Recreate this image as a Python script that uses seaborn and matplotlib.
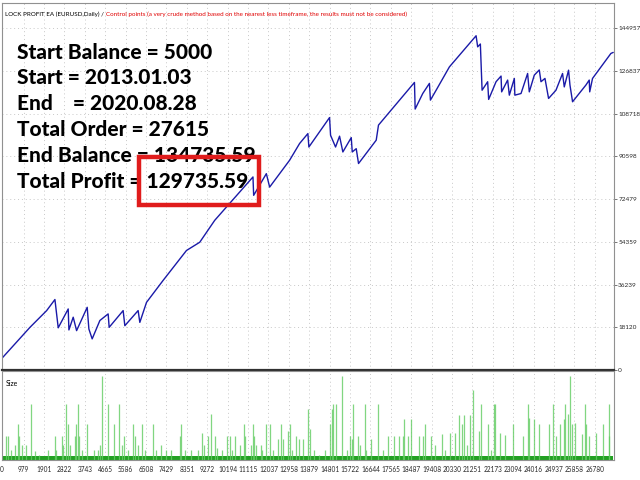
import numpy as np
import pandas as pd
import matplotlib
matplotlib.use("Agg")
import matplotlib.pyplot as plt
import seaborn as sns

# balance curve (trade number, balance)
trade_no = [0, 1263, 2017, 2391, 2540, 2991, 3023, 3217, 3370, 3849, 3925, 4074,
            4422, 4796, 4841, 5473, 5550, 6150, 6227, 6529, 7278, 8334, 8934, 9611,
            11339, 11370, 11943, 12092, 12995, 13446, 13820, 13865, 14799, 14844,
            15070, 15251, 15400, 15779, 15824, 16004, 16108, 16907, 17010, 18635,
            18666, 19009, 19311, 19356, 19614, 20214, 21419, 21491, 21612, 21690,
            21942, 21987, 22321, 22547, 22574, 22845, 22921, 23147, 23170, 23449,
            23747, 23823, 24049, 24274, 24351, 24531, 24694, 25028, 25326, 25403,
            25597, 25660, 25778, 26382, 26531, 26553, 26680, 27510, 27615]
balance = [5000, 18100, 25200, 29900, 17900, 25900, 17000, 22400, 16700, 26600,
           17400, 13200, 21000, 23800, 18100, 25200, 18800, 25200, 20200, 28700,
           38000, 50700, 54200, 63500, 81900, 74100, 83300, 77600, 89000, 96100,
           100300, 94600, 107100, 99600, 94600, 99200, 92500, 98600, 92500, 93900,
           87600, 97500, 103900, 122000, 110700, 117300, 121600, 114500, 118700,
           128600, 141800, 137100, 138300, 118700, 122300, 114800, 122300, 124700,
           118000, 123000, 116600, 123700, 116600, 117300, 125800, 118000, 125100,
           127300, 122300, 123700, 115200, 118700, 125800, 120100, 127200, 120900,
           113800, 120900, 123000, 118000, 123700, 134300, 134735.59]

# lot size spikes (trade number, size)
size_trade = [196, 271, 406, 602, 737, 767, 918, 1083, 1294, 1489, 1685, 2091, 2392,
              2437, 2707, 2768, 2903, 2978, 3068, 3279, 3339, 3414, 3490, 3625, 3850,
              4151, 4347, 4422, 4527, 4798, 5054, 5294, 5400, 5520, 5715, 5926, 6016,
              6167, 6332, 6452, 6828, 6979, 7204, 7430, 7656, 8032, 8092, 8272, 8558,
              8859, 9024, 9145, 9325, 9445, 9626, 9716, 9957, 10167, 10317, 10393,
              10528, 10739, 10934, 10964, 11265, 11340, 11385, 11461, 11686, 11746,
              11942, 12092, 12243, 12453, 12589, 12694, 12904, 12995, 13115, 13265,
              13416, 13596, 13821, 13897, 14093, 14318, 14574, 14799, 14890, 14950,
              15070, 15356, 15581, 15702, 15807, 15852, 16078, 16183, 16379, 16454,
              16679, 16980, 17206, 17461, 17702, 17928, 18108, 18183, 18334, 18499,
              18860, 19011, 19131, 19386, 19582, 19868, 20018, 20229, 20454, 20665,
              20770, 20860, 21026, 21161, 21266, 21537, 21657, 21943, 22079, 22214,
              22259, 22515, 22725, 23086, 23522, 23763, 23823, 24049, 24274, 24726,
              24906, 25026, 25207, 25372, 25432, 25553, 25643, 25748, 25899, 26200,
              26335, 26380, 26530, 26831, 27132, 27403, 27433]
size_lots = [0.22, 0.22, 0.09, 0.14, 0.33, 0.22, 0.14, 0.14, 0.51, 0.08, 0.05, 0.09,
             0.22, 0.09, 0.22, 0.14, 0.51, 0.33, 0.14, 0.22, 0.33, 0.51, 0.22, 0.09,
             0.33, 0.09, 0.09, 0.14, 0.76, 0.51, 0.33, 0.51, 0.14, 0.22, 0.09, 0.33,
             0.22, 0.14, 0.33, 0.09, 0.33, 0.09, 0.14, 0.09, 0.09, 0.22, 0.33, 0.09,
             0.09, 0.09, 0.25, 0.14, 0.22, 0.42, 0.22, 0.11, 0.09, 0.22, 0.22, 0.09,
             0.22, 0.14, 0.33, 0.22, 0.14, 0.33, 0.22, 0.14, 0.14, 0.09, 0.33, 0.33,
             0.09, 0.19, 0.33, 0.19, 0.26, 0.33, 0.09, 0.22, 0.19, 0.19, 0.46, 0.28,
             0.09, 0.05, 0.09, 0.33, 0.46, 0.51, 0.51, 0.76, 0.09, 0.22, 0.19, 0.51,
             0.22, 0.14, 0.51, 0.09, 0.19, 0.51, 0.09, 0.22, 0.22, 0.22, 0.22, 0.37,
             0.22, 0.37, 0.22, 0.22, 0.33, 0.22, 0.14, 0.24, 0.09, 0.25, 0.25, 0.41,
             0.33, 0.41, 0.14, 0.41, 0.64, 0.26, 0.51, 0.33, 0.09, 0.51, 0.51, 0.25,
             0.23, 0.33, 0.22, 0.51, 0.38, 0.37, 0.33, 0.33, 0.51, 0.22, 0.33, 0.37,
             0.51, 0.42, 0.76, 0.33, 0.34, 0.24, 0.51, 0.33, 0.22, 0.25, 0.33, 0.51,
             0.22]
base_lot = 0.035
total_trades = 27615

x_ticks = [0, 979, 1901, 2822, 3743, 4665, 5586, 6508, 7429, 8351, 9272, 10194,
           11115, 12037, 12958, 13879, 14801, 15722, 16644, 17565, 18487, 19408,
           20330, 21251, 22173, 23094, 24016, 24937, 25858, 26780]
y_ticks = [0, 18120, 36239, 54359, 72479, 90598, 108718, 126837, 144957]

info_lines = ["Start Balance = 5000", "Start = 2013.01.03", "End    = 2020.08.28",
              "Total Order = 27615", "End Balance = 134735.59", "Total Profit = 129735.59"]

sns.set_style("white")
plt.rcParams["font.family"] = ["Lato", "DejaVu Sans"]

fig = plt.figure(figsize=(6.4, 4.8), dpi=100)
ax = fig.add_axes([2 / 640, 1 - 370 / 480, 612 / 640, 367 / 480])
ax2 = fig.add_axes([2 / 640, 1 - 460 / 480, 612 / 640, 89 / 480])

df = pd.DataFrame({"trade": trade_no, "balance": balance})
sns.lineplot(data=df, x="trade", y="balance", ax=ax, color="#1a1aa8",
             linewidth=1.0, estimator=None, sort=False)

ax.set_xlim(0, 27650)
ax.set_ylim(0, 155700)
ax.set_xticks(x_ticks)
ax.set_yticks(y_ticks)
ax.set_xticklabels([])
ax.yaxis.tick_right()
ax.set_yticklabels([str(v) for v in y_ticks])
ax.tick_params(axis="y", labelsize=4.6, length=2, width=0.6, color="#606060", pad=1)
ax.tick_params(axis="x", length=0)
ax.grid(True, color="#c8c8c8", linestyle=(0, (1, 3)), linewidth=0.7)
ax.set_xlabel("")
ax.set_ylabel("")
for s in ["top", "left", "right"]:
    ax.spines[s].set_color("#909090")
    ax.spines[s].set_linewidth(0.8)
ax.spines["bottom"].set_color("#303030")
ax.spines["bottom"].set_linewidth(1.6)

# title in two colours
t1 = ax.text(3 / 612, 1 - 11 / 367, "LOCK PROFIT EA (EURUSD,Daily) / ", transform=ax.transAxes,
             fontsize=4.5, color="black", va="center", ha="left")
ax.annotate("Control points (a very crude method based on the nearest less timeframe, "
            "the results must not be considered)", xy=(1, 0), xycoords=t1,
            fontsize=4.5, color="#e00000", va="bottom", ha="left")

# big info block
line_y = [52, 77.5, 103, 129, 155, 181.5]
for txt, yy in zip(info_lines, line_y):
    ax.text(15 / 612, 1 - (yy - 3) / 367, txt, transform=ax.transAxes,
            fontsize=15, fontweight="black", color="black", va="center", ha="left",
            zorder=5)
ax.add_patch(plt.Rectangle((137 / 612, 1 - (205 - 3) / 367), 120 / 612, 48 / 367,
                           transform=ax.transAxes, fill=False, edgecolor="#e01c1c",
                           linewidth=3.2, zorder=6))

# size panel
ax2.fill_between([0, total_trades], 0, base_lot, color="#22a022", linewidth=0)
ax2.vlines(size_trade, 0, size_lots, color="#62cc62", linewidth=0.9, alpha=0.8)
ax2.set_xlim(0, 27650)
ax2.set_ylim(0, 0.81)
ax2.set_xticks(x_ticks)
ax2.set_xticklabels([str(v) for v in x_ticks])
ax2.tick_params(axis="x", labelsize=4.7, length=2, width=0.6, color="#606060", pad=2)
ax2.set_yticks([])
ax2.grid(True, axis="x", color="#c8c8c8", linestyle=(0, (1, 3)), linewidth=0.7)
for s in ax2.spines.values():
    s.set_color("#909090")
    s.set_linewidth(0.8)
ax2.text(4 / 612, 0.86, "Size", transform=ax2.transAxes, fontsize=5, color="black",
         va="center", ha="left")

fig.savefig("out.png", dpi=100, facecolor="white")
